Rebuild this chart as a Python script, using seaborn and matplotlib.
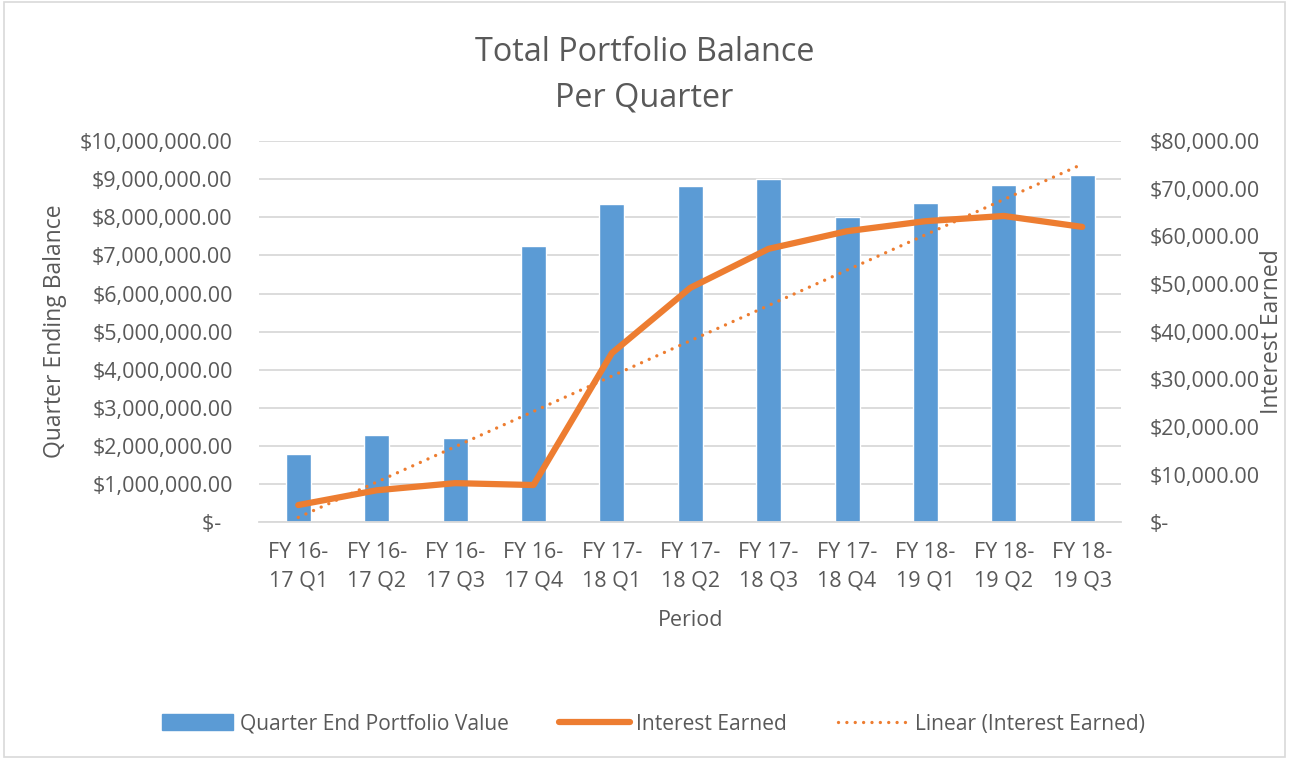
import numpy as np
import pandas as pd
import matplotlib
matplotlib.use("Agg")
import matplotlib.pyplot as plt
import seaborn as sns
from matplotlib.lines import Line2D
from matplotlib.patches import Patch

periods = ["FY 16-\n17 Q1", "FY 16-\n17 Q2", "FY 16-\n17 Q3", "FY 16-\n17 Q4",
           "FY 17-\n18 Q1", "FY 17-\n18 Q2", "FY 17-\n18 Q3", "FY 17-\n18 Q4",
           "FY 18-\n19 Q1", "FY 18-\n19 Q2", "FY 18-\n19 Q3"]
portfolio_value = [1.80e6, 2.30e6, 2.22e6, 7.24e6, 8.35e6, 8.83e6,
                   9.02e6, 8.02e6, 8.38e6, 8.85e6, 9.11e6]
interest_earned = [3600, 6700, 8200, 7800, 35500, 49200,
                   57400, 61100, 63200, 64300, 62000]

BLUE = "#5B9BD5"
ORANGE = "#ED7D31"
TXT = "#595959"
GRID = "#D9D9D9"
FS = 15.5
DOTS = (0, (0.01, 2.5))

sns.set_theme(style="white")
plt.rcParams["font.family"] = ["Open Sans", "DejaVu Sans"]
plt.rcParams["text.color"] = TXT
plt.rcParams["axes.labelcolor"] = TXT
plt.rcParams["xtick.color"] = TXT
plt.rcParams["ytick.color"] = TXT

df = pd.DataFrame({"period": periods, "value": portfolio_value, "interest": interest_earned})

fig = plt.figure(figsize=(12.89, 7.59), dpi=100)
ax = fig.add_axes([0.201, 0.312, 0.669, 0.502])

sns.barplot(data=df, x="period", y="value", color=BLUE, saturation=1,
            width=0.32, ax=ax)
ax.set_ylim(0, 10e6)
ax.set_yticks(np.arange(0, 10.5e6, 1e6))
ax.set_yticklabels(["$-  "] + [f"${v:,.2f}" for v in np.arange(1e6, 10.5e6, 1e6)],
                   fontsize=FS)
ax.yaxis.grid(True, color=GRID, linewidth=1.3)
ax.set_axisbelow(True)
for s in ["top", "right", "left"]:
    ax.spines[s].set_visible(False)
ax.spines["bottom"].set_color(GRID)
ax.spines["bottom"].set_linewidth(1.3)
ax.tick_params(axis="y", length=0, pad=19)
ax.tick_params(axis="x", length=0, labelsize=FS, pad=14)
for t in ax.get_xticklabels():
    t.set_linespacing(1.5)
ax.set_xlabel("Period", fontsize=FS, labelpad=13)
ax.set_ylabel("Quarter Ending Balance", fontsize=16.5, labelpad=9)
ax.set_xlim(-0.5, len(periods) - 0.5)

ax2 = ax.twinx()
x = np.arange(len(periods))
sns.lineplot(x=x, y=interest_earned, color=ORANGE, linewidth=4.5, ax=ax2)
coef = np.polyfit(x, interest_earned, 1)
ax2.plot(x, np.polyval(coef, x), color=ORANGE, linewidth=2.4,
         linestyle=DOTS, dash_capstyle="round")
ax2.set_ylim(0, 80000)
ax2.set_yticks(np.arange(0, 80001, 10000))
ax2.set_yticklabels(["$-"] + [f"${v:,.2f}" for v in np.arange(10000, 80001, 10000)],
                    fontsize=FS)
for s in ax2.spines.values():
    s.set_visible(False)
ax2.tick_params(axis="y", length=0, pad=20)
ax2.set_ylabel("Interest Earned", fontsize=16.5)
ax2.yaxis.set_label_coords(1.161, 0.5)
ax2.grid(False)
ax2.set_xlim(-0.5, len(periods) - 0.5)

fig.suptitle("Total Portfolio Balance\nPer Quarter", fontsize=23.3, color=TXT,
             y=0.953, linespacing=1.5)

handles = [Patch(facecolor=BLUE, edgecolor=BLUE),
           Line2D([0], [0], color=ORANGE, linewidth=4.5),
           Line2D([0], [0], color=ORANGE, linewidth=2.4, linestyle=DOTS,
                  dash_capstyle="round")]
labels = ["Quarter End Portfolio Value", "Interest Earned", "Linear (Interest Earned)"]
fig.legend(handles, labels, loc="center", bbox_to_anchor=(0.507, 0.046), ncol=3,
           frameon=False, fontsize=15.1, handlelength=3.4, handleheight=0.8,
           columnspacing=2.4, handletextpad=0.3)

fig.patches.append(plt.Rectangle((0.003, 0.003), 0.994, 0.994, transform=fig.transFigure,
                                 fill=False, edgecolor=GRID, linewidth=1.2))

fig.savefig("out.png", dpi=100)
